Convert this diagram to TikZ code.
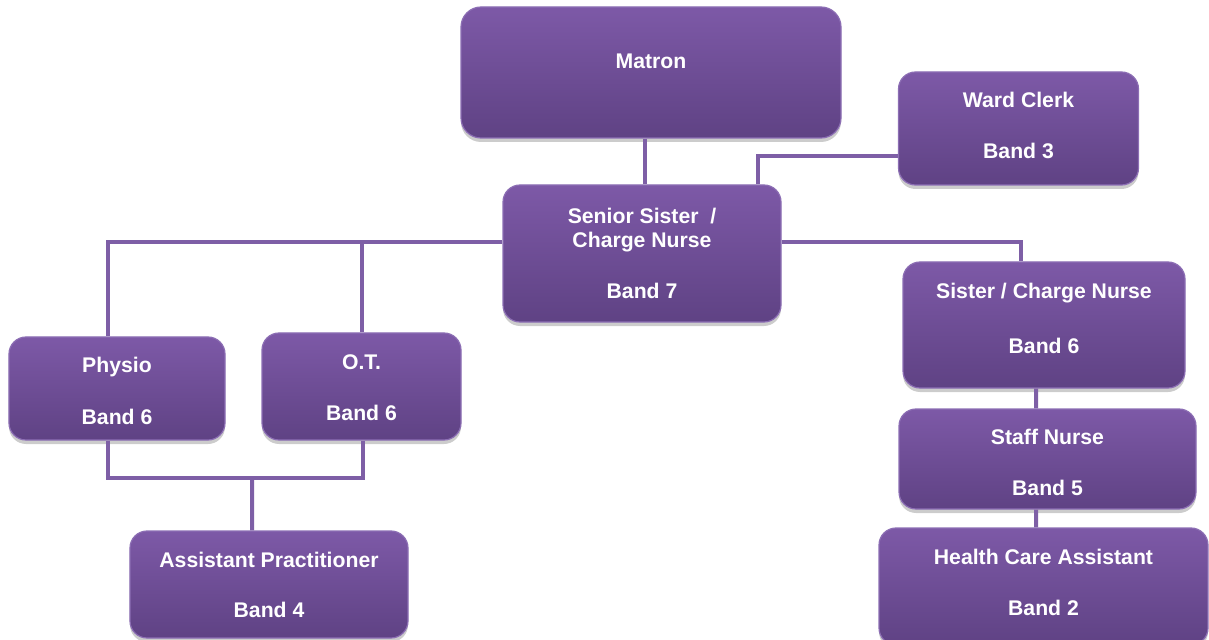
\documentclass[tikz,border=0pt]{standalone}
\usepackage{fontspec}
\setmainfont{Liberation Sans}
\usetikzlibrary{shadows,calc}
\definecolor{boxtop}{HTML}{7D59A7}
\definecolor{boxbot}{HTML}{5F4284}
\definecolor{boxedge}{HTML}{8C6EB4}
\definecolor{conncol}{HTML}{7E5FA6}
\tikzset{
  orgbox/.style={rectangle, rounded corners=17bp, inner sep=0pt,
    top color=boxtop, bottom color=boxbot, draw=boxedge, line width=1.2bp,
    drop shadow={opacity=0.4, shadow xshift=0bp, shadow yshift=-4bp}},
  boxtxt/.style={text=white, font=\bfseries\fontsize{21.2bp}{24bp}\selectfont, align=center, inner sep=0pt},
  conn/.style={draw=conncol, line width=4bp}
}
\begin{document}
\begin{tikzpicture}[x=1bp,y=-1bp]
\useasboundingbox (0,0) rectangle (1209,640);
% boxes
\node[orgbox, minimum width=380bp, minimum height=131bp, rounded corners=20bp,
  label={[boxtxt,yshift=11.5bp]center:Matron}] (matron) at (651,72.5) {};
\node[orgbox, minimum width=240bp, minimum height=113bp,
  label={[boxtxt,yshift=3bp]center:{Ward Clerk\\[27bp]Band 3}}] (clerk) at (1018.5,128.5) {};
\node[orgbox, minimum width=278bp, minimum height=137bp,
  label={[boxtxt]center:{Senior Sister\ \ /\\Charge Nurse\\[27bp]Band 7}}] (senior) at (642,253.5) {};
\node[orgbox, minimum width=282bp, minimum height=126bp,
  label={[boxtxt,yshift=6.5bp]center:{Sister / Charge Nurse\\[31bp]Band 6}}] (sister) at (1044,325) {};
\node[orgbox, minimum width=216bp, minimum height=103bp,
  label={[boxtxt,yshift=-2.5bp]center:{Physio\\[28bp]Band 6}}] (physio) at (117,388.5) {};
\node[orgbox, minimum width=199bp, minimum height=107bp,
  label={[boxtxt,yshift=-1bp]center:{O.T.\\[27bp]Band 6}}] (ot) at (361.5,386.5) {};
\node[orgbox, minimum width=297bp, minimum height=100bp,
  label={[boxtxt,yshift=-3.5bp]center:{Staff Nurse\\[27bp]Band 5}}] (staff) at (1047.5,459) {};
\node[orgbox, minimum width=329bp, minimum height=117bp,
  label={[boxtxt,yshift=4bp]center:{Health Care Assistant\\[27bp]Band 2}}] (hca) at (1043.5,586.5) {};
\node[orgbox, minimum width=278bp, minimum height=107bp,
  label={[boxtxt,yshift=-0.5bp]center:{Assistant Practitioner\\[26bp]Band 4}}] (ap) at (269,584.5) {};
% connectors
\coordinate (bus) at (252,478);
\coordinate (lbus) at ([yshift=11.5bp]senior.west);
\coordinate (rbus) at ([yshift=11.5bp]senior.east);
\coordinate (stop) at ([xshift=3bp]senior.north);
\draw[conn] (matron.south -| stop) -- (stop);
\draw[conn] ([yshift=-27.5bp]clerk.west) -| ([xshift=116bp]senior.north);
\draw[conn] (lbus) -| ([xshift=-9bp]physio.north);
\draw[conn] (ot.north) -- (ot.north |- lbus);
\draw[conn] (rbus) -| ([xshift=-23bp]sister.north);
\draw[conn] ([xshift=-8bp]sister.south) -- ([xshift=-11.5bp]staff.north);
\draw[conn] ([xshift=-11.5bp]staff.south) -- ([xshift=-7.5bp]hca.north);
\draw[conn] ([xshift=-9bp]physio.south) |- (bus) -| ([xshift=1.5bp]ot.south);
\draw[conn] (bus) -- ([xshift=-17bp]ap.north);
\end{tikzpicture}
\end{document}
